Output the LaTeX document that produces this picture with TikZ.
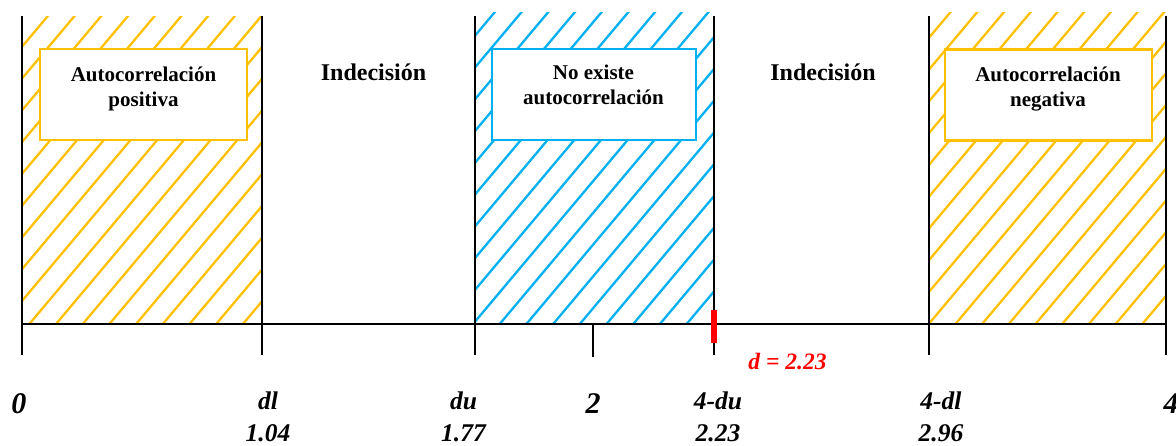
\documentclass[tikz,border=0pt]{standalone}
\usepackage{fontspec}
\setmainfont{Liberation Serif}
\usetikzlibrary{positioning}
\definecolor{oro}{HTML}{FFC000}
\definecolor{celeste}{HTML}{00B0F0}
\definecolor{rojo}{HTML}{FF0000}

\begin{document}
\begin{tikzpicture}[
  x=1pt, y=-1pt,
  eje/.style    = {line width=2.8pt, black},
  raya/.style   = {line width=2.3pt},
  caja/.style   = {draw, fill=white, line width=2.3pt, minimum width=207pt,
                   minimum height=91pt, inner sep=0pt},
  titulo/.style = {font=\bfseries\fontsize{21}{25}\selectfont, align=center,
                   inner sep=0pt, anchor=north},
  zona/.style   = {font=\bfseries\fontsize{24}{29}\selectfont, inner sep=0pt,
                   anchor=base},
  valor/.style  = {font=\bfseries\itshape\fontsize{25.5}{32}\selectfont,
                   align=center, inner sep=0pt, anchor=north},
  cifra/.style  = {font=\bfseries\itshape\fontsize{30}{36}\selectfont,
                   inner sep=0pt, anchor=base},
]
\useasboundingbox (0,0) rectangle (1176,445);
% hatched zones
\begin{scope}
  \clip (22,16.5) rectangle (262,324);
  \foreach \x in {7.9,34.6,...,580} \draw[raya, oro] (\x,0) -- ++(-300,357);
\end{scope}
\begin{scope}
  \clip (475,12) rectangle (714,324);
  \foreach \x in {264.7,291.4,...,1030} \draw[raya, celeste] (\x,0) -- ++(-300,357);
\end{scope}
\begin{scope}
  \clip (929,12.7) rectangle (1166,324);
  \foreach \x in {907.3,934,...,1480} \draw[raya, oro] (\x,0) -- ++(-300,357);
\end{scope}
% boxes
\node[caja, draw=oro] (bpos) at (143.5,94.5) {};
\node[caja, draw=celeste, minimum width=204pt] (bnone) at (594,94.5) {};
\node[caja, draw=oro] (bneg) at (1048.5,95) {};
\node[titulo] (tpos) at (143.5,67) {Autocorrelación\\positiva};
\node[titulo] (tnone) at (593.5,64.5) {No existe\\autocorrelación};
\node[titulo] (tneg) at (1048,67) {Autocorrelación\\negativa};
\node[zona] (ind1) at (373.5,80) {Indecisión};
\node[zona] (ind2) at (823,80) {Indecisión};
% axis and limits
\foreach \x/\n in {22/t0, 262/tdl, 475/tdu, 714/tdus, 929/tdls, 1166/tcuatro}
  \coordinate (\n) at (\x,324);
\coordinate (tdos) at (593,324);
\foreach \n in {t0, tdl, tdu, tdus, tdls, tcuatro}
  \draw[eje] (\n) ++(0,-308) -- ++(0,339);
\draw[eje] (t0) -- (tcuatro);
\draw[eje] (tdos) -- ++(0,33);
\draw[line width=6pt, rojo] ([yshift=14pt]tdus) -- ([yshift=-19pt]tdus);
\node[font=\bfseries\itshape\fontsize{23.5}{28}\selectfont, text=rojo, inner sep=0pt,
      anchor=base] (dval) at (787.5,369) {d = 2.23};
% labels
\node[cifra] (l0) at (19,413) {0};
\node[valor] (ldl) at (268,392) {dl\\1.04};
\node[valor] (ldu) at (463.5,392) {du\\1.77};
\node[cifra] (l2) at (593,413) {2};
\node[valor] (ldus) at (718,392) {4-du\\2.23};
\node[valor] (ldls) at (941,392) {4-dl\\2.96};
\node[cifra] (l4) at (1171,413) {4};
\end{tikzpicture}
\end{document}
